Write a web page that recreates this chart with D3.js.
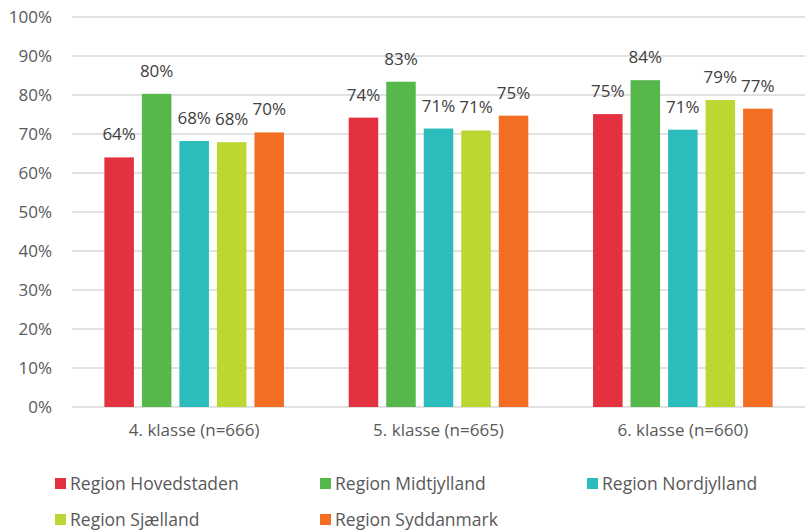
<!DOCTYPE html>
<html>
<head>
<meta charset="utf-8">
<script src="https://cdn.jsdelivr.net/npm/d3@7"></script>
<style>
  body { margin: 0; background: #fff; }
  svg { display: block; font-family: "Open Sans", "Noto Sans", sans-serif; }
</style>
</head>
<body>
<svg id="chart" width="805" height="531"></svg>
<script>
// data
var categories = ['4. klasse (n=666)', '5. klasse (n=665)', '6. klasse (n=660)'];
var regions = ['Region Hovedstaden', 'Region Midtjylland', 'Region Nordjylland', 'Region Sjælland', 'Region Syddanmark'];
var hovedstaden = [0.640, 0.742, 0.751];
var midtjylland = [0.803, 0.834, 0.838];
var nordjylland = [0.682, 0.714, 0.711];
var sjaelland   = [0.679, 0.709, 0.787];
var syddanmark  = [0.704, 0.747, 0.765];
var yTicks = [0, 0.1, 0.2, 0.3, 0.4, 0.5, 0.6, 0.7, 0.8, 0.9, 1];

var colors = ['#e3313f', '#56b84b', '#2bbcbb', '#bdd632', '#f36e22'];
var seriesVals = [hovedstaden, midtjylland, nordjylland, sjaelland, syddanmark];

var svg = d3.select('#chart');

// skalaer
var x0 = d3.scaleBand().domain(categories).range([72, 805])
  .paddingInner(0.265).paddingOuter(0.1325);
var x1 = d3.scaleBand().domain(regions).range([0, x0.bandwidth()])
  .paddingInner(0.213).paddingOuter(0);
var y = d3.scaleLinear().domain([0, 1]).range([407, 17]);
var pct = d3.format('.0%');

// gitterlinjer
svg.append('g')
  .selectAll('line')
  .data(yTicks)
  .enter().append('line')
  .attr('x1', 72).attr('x2', 805)
  .attr('y1', function(d) { return y(d); })
  .attr('y2', function(d) { return y(d); })
  .attr('stroke', '#d9d9d9')
  .attr('stroke-width', 1.5);

// y akse
var yAxis = d3.axisLeft(y).tickValues(yTicks).tickFormat(pct).tickSize(0).tickPadding(0);
var gy = svg.append('g').attr('transform', 'translate(52,0)').call(yAxis);
gy.select('.domain').remove();
gy.selectAll('text').attr('font-size', 17).attr('fill', '#595959')
  .attr('font-family', '"Open Sans", sans-serif');

// x akse
var xAxis = d3.axisBottom(x0).tickSize(0).tickPadding(0);
var gx = svg.append('g').attr('transform', 'translate(0,424)').call(xAxis);
gx.select('.domain').remove();
gx.selectAll('text').attr('font-size', 17).attr('fill', '#595959')
  .attr('font-family', '"Open Sans", sans-serif');

// søjler
var rows = [];
categories.forEach(function(c, ci) {
  regions.forEach(function(r, ri) {
    rows.push({ cat: c, region: r, value: seriesVals[ri][ci], color: colors[ri] });
  });
});

svg.append('g')
  .selectAll('rect')
  .data(rows)
  .enter().append('rect')
  .attr('x', function(d) { return x0(d.cat) + x1(d.region); })
  .attr('y', function(d) { return y(d.value); })
  .attr('width', x1.bandwidth())
  .attr('height', function(d) { return y(0) - y(d.value); })
  .attr('fill', function(d) { return d.color; });

// dataetiketter
svg.append('g')
  .selectAll('text')
  .data(rows)
  .enter().append('text')
  .attr('x', function(d) { return x0(d.cat) + x1(d.region) + x1.bandwidth() / 2; })
  .attr('y', function(d) { return y(d.value) - 17; })
  .attr('text-anchor', 'middle')
  .attr('font-size', 17)
  .attr('fill', '#404040')
  .text(function(d) { return pct(d.value); });

// legende
var legendPos = [[55, 484], [320, 484], [587, 484], [55, 520], [320, 520]];
var lg = svg.append('g')
  .selectAll('g')
  .data(regions)
  .enter().append('g')
  .attr('transform', function(d, i) { return 'translate(' + legendPos[i][0] + ',' + legendPos[i][1] + ')'; });
lg.append('rect')
  .attr('x', 0).attr('y', -6).attr('width', 11).attr('height', 11)
  .attr('fill', function(d, i) { return colors[i]; });
lg.append('text')
  .attr('x', 15).attr('y', 0).attr('dy', '0.35em')
  .attr('font-size', 17.5).attr('fill', '#595959')
  .text(function(d) { return d; });
</script>
</body>
</html>
